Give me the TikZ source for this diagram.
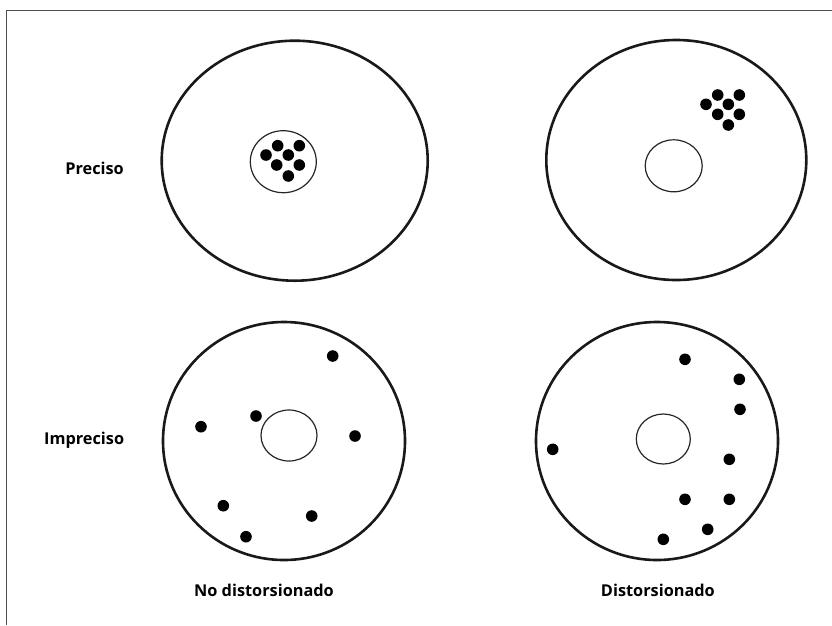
\documentclass[tikz,border=0pt]{standalone}
\usepackage{fontspec}
\newfontfamily\labfont{Open Sans}
\begin{document}
\begin{tikzpicture}[x=1pt,y=-1pt,
  outer/.style={draw=black!90,line width=2.6pt},
  inner/.style={draw=black!85,line width=1.2pt},
  shot/.style={fill=black},
  frameline/.style={draw=black!70,line width=1pt},
  lab/.style={font=\labfont\bfseries\fontsize{16.3}{18}\selectfont,inner sep=0pt}]
\useasboundingbox (0,0) rectangle (832,625);
% frame
\draw[frameline] (6,625) -- (6,10) -- (832,10);
% top-left: preciso, no distorsionado
\draw[outer] (294.7,160.7) ellipse [x radius=133, y radius=120];
\draw[inner] (283.3,161.7) ellipse [x radius=33, y radius=31];
\foreach \p in {(277.7,145.7),(299.3,145.7),(266,155),(288.3,155),(276.7,165),(299.3,165),(288.3,176)}
  \fill[shot] \p circle (5.8);
% top-right: preciso, distorsionado
\draw[outer] (676.3,160) ellipse [x radius=130, y radius=120];
\draw[inner] (673.7,165.8) ellipse [x radius=28.5, y radius=26];
\foreach \p in {(717.7,95),(739.3,95),(706,104.3),(728.3,104.3),(717.7,114.3),(739.3,114.3),(728.3,125)}
  \fill[shot] \p circle (5.8);
% bottom-left: impreciso, no distorsionado
\draw[outer] (284,441) ellipse [x radius=121, y radius=119];
\draw[inner] (289,435.5) ellipse [x radius=28, y radius=25.5];
\foreach \p in {(332.7,356),(256,416),(201,426.7),(355,436),(223.3,505.7),(311.7,516),(246,536.7)}
  \fill[shot] \p circle (5.8);
% bottom-right: impreciso, distorsionado
\draw[outer] (657,441) ellipse [x radius=121, y radius=119];
\draw[inner] (663.3,439) ellipse [x radius=27, y radius=25];
\foreach \p in {(685,359.3),(739.3,379.3),(740,409.3),(552.7,449.3),(729.3,459.3),(685,499.3),(729.3,499.3),(707.7,529.3),(663.3,539.3)}
  \fill[shot] \p circle (5.8);
% labels
\node[lab,anchor=base east] (preciso) at (124,174.3) {Preciso};
\node[lab,anchor=base east] (impreciso) at (124.3,444.3) {Impreciso};
\node[lab,anchor=base] (nodist) at (264,596.7) {No distorsionado};
\node[lab,anchor=base] (dist) at (657.9,596.7) {Distorsionado};
\end{tikzpicture}
\end{document}
